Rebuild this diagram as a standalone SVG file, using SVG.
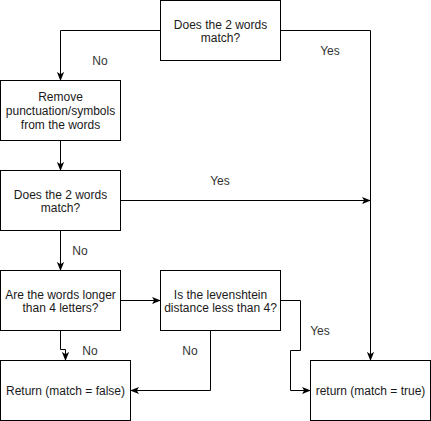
<svg xmlns="http://www.w3.org/2000/svg" width="431" height="421" viewBox="0 0 431 421">
<defs>
<style>
.box{fill:#fff;stroke:#000;stroke-width:1}
.t{font-family:"Liberation Sans",Arial,Helvetica,sans-serif;font-size:12px;fill:#1a1a1a;text-anchor:middle}
.lbl{font-family:"Liberation Sans",Arial,Helvetica,sans-serif;font-size:12px;fill:#333;text-anchor:middle}
.e{fill:none;stroke:#000;stroke-width:1}
</style>
<marker id="arr" viewBox="0 0 10 10" refX="9" refY="5" markerWidth="9" markerHeight="9" markerUnits="userSpaceOnUse" orient="auto">
<path d="M0,1 L10,5 L0,9 L2.5,5 Z" fill="#000"/>
</marker>
</defs>
<rect width="431" height="421" fill="#fff"/>
<g id="connectors">
<path class="e" d="M160.5,30.5 H60.5 V80" marker-end="url(#arr)"/>
<path class="e" d="M280.5,30.5 H370.5 V360" marker-end="url(#arr)"/>
<path class="e" d="M60.5,140.5 V170" marker-end="url(#arr)"/>
<path class="e" d="M120.5,200.5 H370" marker-end="url(#arr)"/>
<path class="e" d="M60.5,230.5 V270" marker-end="url(#arr)"/>
<path class="e" d="M120.5,300.5 H160" marker-end="url(#arr)"/>
<path class="e" d="M60.5,330.5 V349.5 H65.5 V360" marker-end="url(#arr)"/>
<path class="e" d="M210.5,330.5 V390.5 H131" marker-end="url(#arr)"/>
<path class="e" d="M280.5,300.5 H300.5 V350.5 H290.5 V390.5 H310" marker-end="url(#arr)"/>
<text class="lbl" x="100" y="65">No</text>
<text class="lbl" x="330" y="55">Yes</text>
<text class="lbl" x="220" y="185">Yes</text>
<text class="lbl" x="80" y="254.5">No</text>
<text class="lbl" x="90" y="355">No</text>
<text class="lbl" x="190" y="355">No</text>
<text class="lbl" x="320" y="335">Yes</text>
</g>
<g id="match1">
<rect class="box" x="160.5" y="0.5" width="120" height="60"/>
<text class="t" x="220.5" y="28.5">Does the 2 words</text>
<text class="t" x="220.5" y="42">match?</text>
</g>
<g id="remove">
<rect class="box" x="0.5" y="80.5" width="120" height="60"/>
<text class="t" x="60.5" y="101">Remove</text>
<text class="t" x="60.5" y="115">punctuation/symbols</text>
<text class="t" x="60.5" y="129">from the words</text>
</g>
<g id="match2">
<rect class="box" x="0.5" y="170.5" width="120" height="60"/>
<text class="t" x="60.5" y="198.5">Does the 2 words</text>
<text class="t" x="60.5" y="212">match?</text>
</g>
<g id="longer">
<rect class="box" x="0.5" y="270.5" width="120" height="60"/>
<text class="t" x="60.5" y="298.5">Are the words longer</text>
<text class="t" x="60.5" y="312">than 4 letters?</text>
</g>
<g id="levenshtein">
<rect class="box" x="160.5" y="270.5" width="120" height="60"/>
<text class="t" x="220.5" y="298.5">Is the levenshtein</text>
<text class="t" x="220.5" y="312">distance less than 4?</text>
</g>
<g id="false">
<rect class="box" x="0.5" y="360.5" width="130" height="60"/>
<text class="t" x="65.5" y="394.5">Return (match = false)</text>
</g>
<g id="true">
<rect class="box" x="310.5" y="360.5" width="120" height="60"/>
<text class="t" x="370.5" y="394.5">return (match = true)</text>
</g>
</svg>
